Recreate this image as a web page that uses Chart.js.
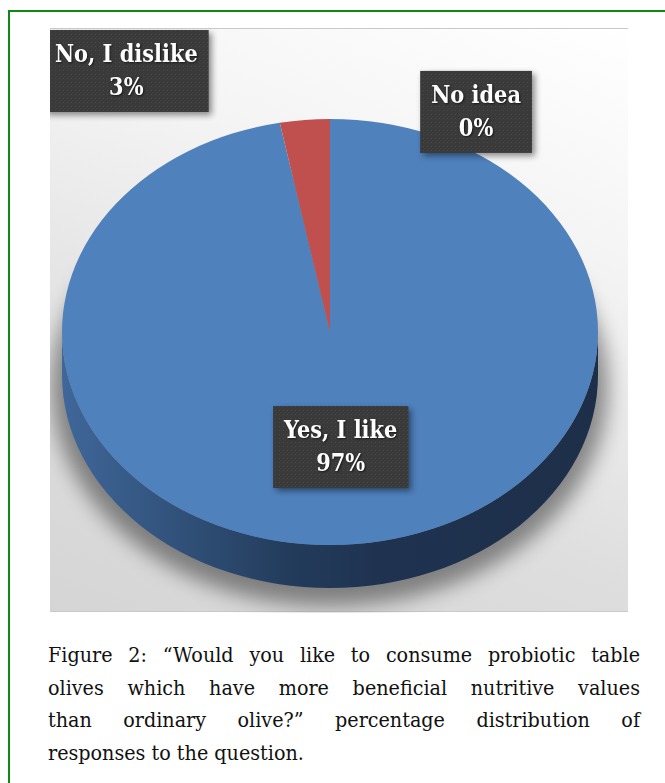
<!DOCTYPE html>
<html>
<head>
<meta charset="utf-8">
<script src="https://cdn.jsdelivr.net/npm/chart.js@4.4.1/dist/chart.umd.min.js"></script>
<style>
  html, body { margin: 0; padding: 0; background: #fff; overflow: hidden; }
  body { width: 665px; height: 783px; position: relative; }
  #box {
    position: absolute; left: 8px; top: 10px; width: 700px; height: 800px;
    border: 2px solid #0f8a0f; box-sizing: border-box;
  }
  #frame {
    position: absolute; left: 50px; top: 28px; width: 578px; height: 584px;
    border-top: 1px solid #c9c9c9; border-bottom: 1px solid #c9c9c9; box-sizing: border-box;
    background: linear-gradient(200deg, #ffffff 0%, #f4f4f4 30%, #dedede 70%, #d5d5d5 100%);
  }
  #frame canvas { position: absolute; left: 0; top: 0; }
  #caption {
    position: absolute; left: 48px; top: 639px; width: 592px;
    font-family: "DejaVu Serif Condensed", "DejaVu Serif", serif;
    font-stretch: condensed; font-size: 21.3px; line-height: 32.5px; color: #111;
  }
  #caption div { text-align: justify; text-align-last: justify; white-space: nowrap; }
  #caption div.last { text-align-last: left; }
</style>
</head>
<body>
<div id="box"></div>
<div id="frame"><canvas id="pie" width="578" height="584"></canvas></div>
<div id="caption">
  <div>Figure 2: “Would you like to consume probiotic table</div>
  <div>olives which have more beneficial nutritive values</div>
  <div>than ordinary olive?” percentage distribution of</div>
  <div class="last">responses to the question.</div>
</div>
<script>
const categories = ['Yes, I like', 'No, I dislike', 'No idea'];
const percentages = [97, 3, 0];
const sliceColors = ['#4f81bd', '#c0504d', '#9bbb59'];

// label box centres, as fractions of the pie's radii (x: rx, y: ry)
const labelSpots = [[0.04, 0.54], [-0.76, -1.225], [0.545, -1.033]];

const tilt = 0.795;
const depth = 43;
const labelFont = 'bold 25px "DejaVu Serif Condensed", "DejaVu Serif", serif';
const squeeze = 0.93;

function dotPattern(ctx) {
  const c = document.createElement('canvas');
  c.width = 4; c.height = 4;
  const p = c.getContext('2d');
  p.fillStyle = '#3a3a3a';
  p.fillRect(0, 0, 4, 4);
  p.fillStyle = '#474747';
  p.fillRect(1, 1, 1, 1);
  return ctx.createPattern(c, 'repeat');
}

const pie3d = {
  id: 'pie3d',
  beforeDatasetDraw(chart) {
    const ctx = chart.ctx;
    const arcs = chart.getDatasetMeta(0).data;
    const { x, y, outerRadius: r } = arcs[0].getProps(['x', 'y', 'outerRadius'], true);
    const ry = r * tilt;

    // soft shadow under the pie
    ctx.save();
    ctx.filter = 'blur(10px)';
    ctx.fillStyle = 'rgba(0,0,0,0.42)';
    ctx.beginPath();
    ctx.ellipse(x, y + depth + 12, r + 10, ry + 6, 0, 0, Math.PI * 2);
    ctx.fill();
    ctx.restore();

    // side walls (only the front half shows)
    arcs.forEach((arc, i) => {
      const { startAngle, endAngle } = arc.getProps(['startAngle', 'endAngle'], true);
      [0, Math.PI * 2].forEach(shift => {
        const a0 = Math.max(startAngle, shift);
        const a1 = Math.min(endAngle, shift + Math.PI);
        if (a1 <= a0) return;
        const g = ctx.createLinearGradient(x - r, 0, x + r, 0);
        if (i === 0) {
          g.addColorStop(0, '#40679a');
          g.addColorStop(0.18, '#33557f');
          g.addColorStop(0.42, '#233c5c');
          g.addColorStop(0.6, '#1f3250');
          g.addColorStop(1, '#1d2f48');
        } else {
          g.addColorStop(0, '#8a3432');
          g.addColorStop(1, '#5a2220');
        }
        ctx.save();
        ctx.fillStyle = g;
        ctx.beginPath();
        ctx.ellipse(x, y, r, ry, 0, a0, a1);
        ctx.ellipse(x, y + depth, r, ry, 0, a1, a0, true);
        ctx.closePath();
        ctx.fill();
        ctx.restore();
      });
    });

    // squash the top face
    ctx.save();
    ctx.translate(x, y);
    ctx.scale(1, tilt);
    ctx.translate(-x, -y);
  },
  afterDatasetDraw(chart) {
    chart.ctx.restore();
  },
  afterDraw(chart) {
    const ctx = chart.ctx;
    const arcs = chart.getDatasetMeta(0).data;
    const { x, y, outerRadius: r } = arcs[0].getProps(['x', 'y', 'outerRadius'], true);
    const ry = r * tilt;
    const fill = dotPattern(ctx);
    ctx.save();
    ctx.font = labelFont;
    ctx.textAlign = 'center';
    ctx.textBaseline = 'middle';
    categories.forEach((name, i) => {
      const lines = [name, percentages[i] + '%'];
      const w = Math.max(...lines.map(t => ctx.measureText(t).width)) * squeeze + 22;
      const lh = 33;
      const h = lh * 2 + 16;
      const cx = x + labelSpots[i][0] * r;
      const cy = y + labelSpots[i][1] * ry;
      ctx.save();
      ctx.shadowColor = 'rgba(0,0,0,0.45)';
      ctx.shadowBlur = 6;
      ctx.shadowOffsetX = 3;
      ctx.shadowOffsetY = 3;
      ctx.fillStyle = fill;
      ctx.fillRect(cx - w / 2, cy - h / 2, w, h);
      ctx.restore();
      ctx.save();
      ctx.translate(cx, cy);
      ctx.scale(squeeze, 1);
      ctx.shadowColor = 'rgba(0,0,0,0.6)';
      ctx.shadowBlur = 2;
      ctx.shadowOffsetX = 1;
      ctx.shadowOffsetY = 1;
      ctx.fillStyle = '#ffffff';
      ctx.fillText(lines[0], 0, -lh / 2 + 1);
      ctx.fillText(lines[1], 0, lh / 2 + 1);
      ctx.restore();
    });
    ctx.restore();
  }
};

new Chart(document.getElementById('pie'), {
  type: 'pie',
  data: {
    labels: categories,
    datasets: [{
      data: percentages,
      backgroundColor: sliceColors,
      borderWidth: 0
    }]
  },
  options: {
    responsive: false,
    animation: false,
    events: [],
    layout: { padding: { left: 12, right: 30, top: 35, bottom: 13 } },
    plugins: {
      legend: { display: false },
      tooltip: { enabled: false }
    }
  },
  plugins: [pie3d]
});
</script>
</body>
</html>
